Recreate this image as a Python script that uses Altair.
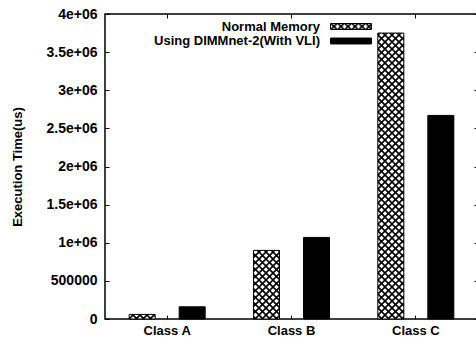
import json
import jinja2
import altair as alt
import pandas as pd

# ---- data ----
categories = ["Class A", "Class B", "Class C"]
series = ["Normal Memory", "Using DIMMnet-2(With VLI)"]
normal_memory = [60000, 900000, 3750000]
dimmnet_vli = [160000, 1070000, 2670000]
y_ticks = [0, 500000, 1000000, 1500000, 2000000, 2500000, 3000000, 3500000, 4000000]
y_tick_labels = ["0", "500000", "1e+06", "1.5e+06", "2e+06", "2.5e+06", "3e+06", "3.5e+06", "4e+06"]

df_normal = pd.DataFrame({"cls": categories, "series": series[0], "value": normal_memory})
df_dimm = pd.DataFrame({"cls": categories, "series": series[1], "value": dimmnet_vli})
df_all = pd.concat([df_normal, df_dimm], ignore_index=True)

FONT = "Liberation Sans"
W, H = 373, 305

label_expr = json.dumps(y_tick_labels) + "[round(datum.value / 500000)]"

x_scale = alt.Scale(type="band", domain=categories, paddingInner=0, paddingOuter=0)
y_scale = alt.Scale(domain=[0, 4000000], nice=False, zero=True)
off_scale = alt.Scale(domain=series, paddingInner=0.48, paddingOuter=0.483)

tick_style = dict(tickSize=4, tickWidth=1, tickColor="black", domain=False, grid=False)

x_bottom = alt.X(
    "cls:N", scale=x_scale, sort=categories,
    axis=alt.Axis(orient="bottom", offset=-4, labelPadding=5, labelFontSize=13,
                  labelFont=FONT, labelFontWeight="bold", labelColor="black",
                  labelAngle=0, title=None, **tick_style),
)
y_left = alt.Y(
    "value:Q", scale=y_scale,
    axis=alt.Axis(orient="left", offset=-4, values=y_ticks, labelExpr=label_expr,
                  labelPadding=8, labelFontSize=14, labelFont=FONT,
                  labelFontWeight="bold", labelColor="black",
                  title="Execution Time(us)", titleFont=FONT, titleFontSize=13,
                  titleFontWeight="bold", titleColor="black", titlePadding=22,
                  **tick_style),
)


def legend_at(y):
    return alt.Legend(
        title=None, orient="none", legendX=166, legendY=y,
        symbolType="M2.76,-0.47H9.21V0.47H2.76Z", symbolSize=161,
        symbolStrokeColor="black", symbolStrokeWidth=1, symbolOffset=35,
        labelAlign="right", labelOffset=0, labelFont=FONT, labelFontSize=13,
        labelFontWeight="bold", labelColor="black", labelLimit=400,
        rowPadding=0, padding=0,
    )


bars_normal = alt.Chart(df_normal).mark_bar(stroke="black", strokeWidth=1).encode(
    x=x_bottom,
    xOffset=alt.XOffset("series:N", scale=off_scale),
    y=y_left,
    fill=alt.Fill("series:N", scale=alt.Scale(domain=[series[0]], range=["url(#xhatch)"]),
                  legend=legend_at(5.5)),
)
bars_dimm = alt.Chart(df_dimm).mark_bar(stroke="black", strokeWidth=1).encode(
    x=x_bottom,
    xOffset=alt.XOffset("series:N", scale=off_scale),
    y=y_left,
    fill=alt.Fill("series:N", scale=alt.Scale(domain=[series[1]], range=["black"]),
                  legend=legend_at(20)),
)
bars = alt.layer(bars_normal, bars_dimm).resolve_scale(fill="independent")

mirror = alt.Chart(df_all).mark_point(opacity=0).encode(
    x=alt.X("cls:N", scale=x_scale, sort=categories,
            axis=alt.Axis(orient="top", offset=-4, labels=False, title=None, **tick_style)),
    y=alt.Y("value:Q", scale=y_scale,
            axis=alt.Axis(orient="right", offset=-4, values=y_ticks, labels=False,
                          title=None, **tick_style)),
)

chart = (
    alt.layer(bars, mirror)
    .resolve_scale(x="independent", y="independent")
    .properties(
        width=W, height=H,
        padding={"left": 105, "top": 14, "right": 0, "bottom": 25},
        autosize=alt.AutoSizeParams(type="none"),
        background="white",
    )
    .configure_view(stroke="black", strokeWidth=1.5)
)

TEMPLATE = jinja2.Template("""<!DOCTYPE html>
<html>
<head>
<style>html, body { overflow: hidden; margin: 0; padding: 0; background: white; }</style>
<script type="text/javascript" src="{{ base_url }}/vega@{{ vega_version }}"></script>
<script type="text/javascript" src="{{ base_url }}/vega-lite@{{ vegalite_version }}"></script>
<script type="text/javascript" src="{{ base_url }}/vega-embed@{{ vegaembed_version }}"></script>
</head>
<body>
<svg width="0" height="0" style="position:absolute;left:0;top:0">
<defs>
<pattern id="xhatch" patternUnits="userSpaceOnUse" width="7" height="7">
<rect x="0" y="0" width="7" height="7" fill="white"/>
<path d="M-1,-1L8,8M8,-1L-1,8" stroke="black" stroke-width="1.6"/>
</pattern>
</defs>
</svg>
<div id="{{ output_div }}"></div>
<script type="text/javascript">
(function(vegaEmbed) {
  var spec = {{ spec }};
  var embedOpt = {{ embed_options }};
  vegaEmbed("#{{ output_div }}", spec, embedOpt).catch(function(err) {
    document.getElementById("{{ output_div }}").innerText = String(err);
  });
})(vegaEmbed);
</script>
</body>
</html>
""")

chart.save("out.html", embed_options={"renderer": "svg", "actions": False}, template=TEMPLATE)
